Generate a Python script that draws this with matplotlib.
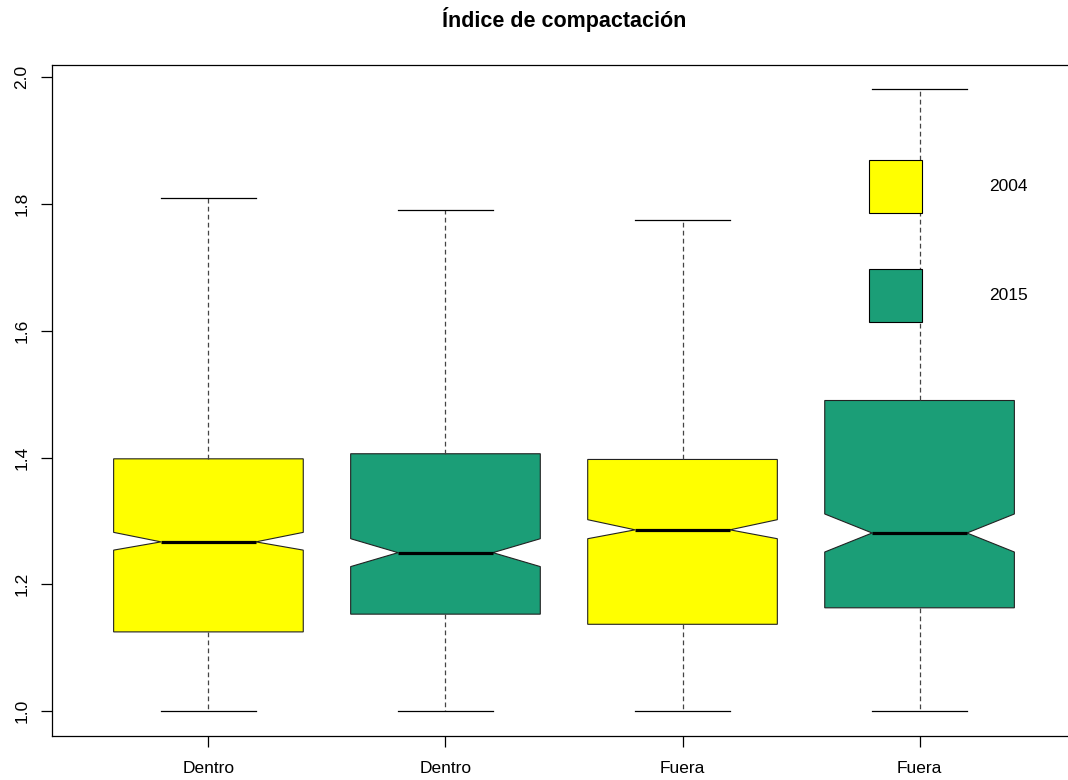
import matplotlib
matplotlib.use("Agg")
import matplotlib.pyplot as plt
from matplotlib.patches import Patch

# Índice de compactación, 2004 vs 2015, dentro / fuera
labels = ["Dentro", "Dentro", "Fuera", "Fuera"]
years = ["2004", "2015", "2004", "2015"]
whislo = [1.000, 1.000, 1.000, 1.000]
q1 = [1.125, 1.153, 1.137, 1.163]
med = [1.267, 1.250, 1.286, 1.281]
q3 = [1.398, 1.406, 1.397, 1.490]
whishi = [1.809, 1.790, 1.774, 1.981]
cilo = [1.254, 1.228, 1.272, 1.251]
cihi = [1.282, 1.272, 1.302, 1.311]

year_colors = {"2004": "#FFFF00", "2015": "#1B9E77"}

plt.rcParams["font.family"] = ["Liberation Sans", "DejaVu Sans"]

fig = plt.figure(figsize=(10.68, 7.8), dpi=100)
# plot region runs past the right edge of the image
ax = fig.add_axes([52 / 1068, 1 - 736 / 780, 1024 / 1068, 671 / 780])

stats = []
for i in range(len(labels)):
    stats.append(dict(med=med[i], q1=q1[i], q3=q3[i], whislo=whislo[i],
                      whishi=whishi[i], cilo=cilo[i], cihi=cihi[i],
                      fliers=[], label=labels[i]))

bp = ax.bxp(stats, positions=range(1, len(labels) + 1), widths=0.8,
            shownotches=True, patch_artist=True, showfliers=False,
            boxprops=dict(edgecolor="#222222", linewidth=0.8),
            medianprops=dict(color="black", linewidth=2.3, solid_capstyle="butt"),
            whiskerprops=dict(color="#444444", linewidth=0.9, linestyle=(0, (3.8, 2.6))),
            capprops=dict(color="black", linewidth=0.9))

for patch, yr in zip(bp["boxes"], years):
    patch.set_facecolor(year_colors[yr])

ax.set_xlim(0.34, 4.66)
ax.set_ylim(0.9608, 2.0192)
ax.set_yticks([1.0, 1.2, 1.4, 1.6, 1.8, 2.0])
ax.set_yticklabels(["1.0", "1.2", "1.4", "1.6", "1.8", "2.0"], rotation=90, va="center")
ax.tick_params(axis="both", labelsize=12.5, length=8, width=0.9, color="black", pad=10)
ax.tick_params(axis="y", pad=8.2)
for sp in ax.spines.values():
    sp.set_linewidth(0.9)
    sp.set_color("black")

ax.set_title("Índice de compactación", fontsize=15.5, fontweight="bold", pad=27)

handles = [Patch(facecolor=year_colors[y], edgecolor="black", linewidth=0.8) for y in ["2004", "2015"]]
ax.legend(handles, ["2004", "2015"], loc="upper left",
          bbox_to_anchor=(869 / 1068, 1 - 160 / 780), bbox_transform=fig.transFigure,
          frameon=False, fontsize=12.5, handlelength=3.05, handleheight=4.32,
          handletextpad=3.85, labelspacing=3.2, borderpad=0, borderaxespad=0)

fig.savefig("out.png", dpi=100)
